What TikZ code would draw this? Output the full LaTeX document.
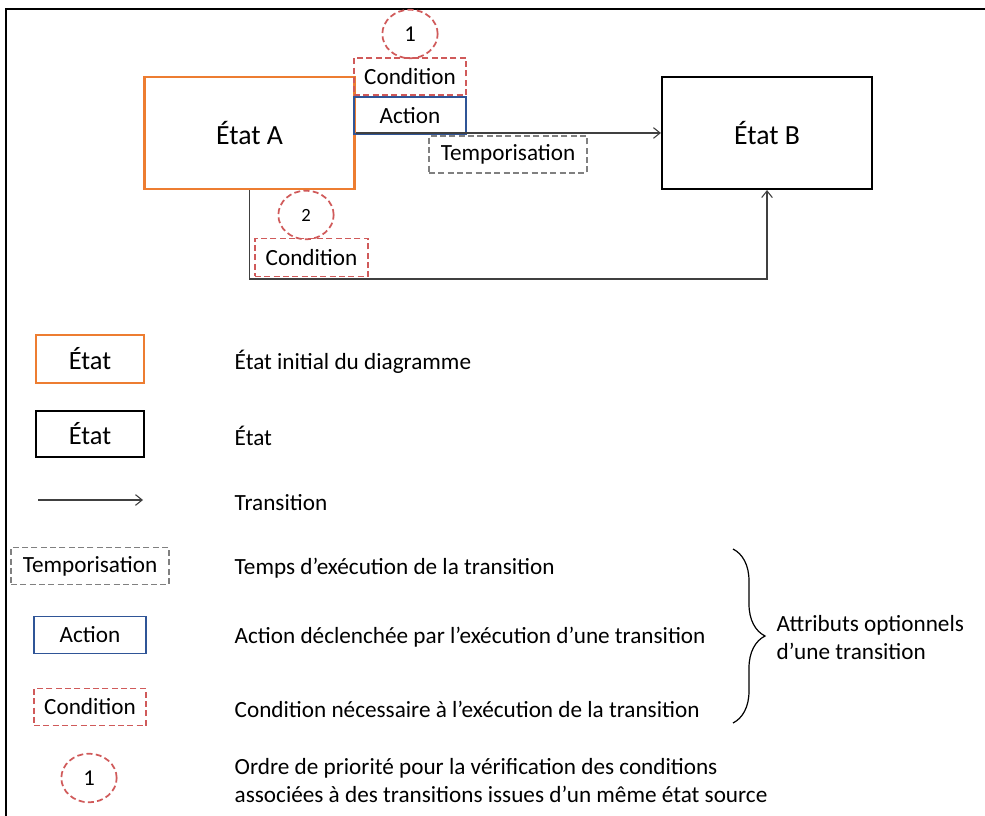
\documentclass[tikz,border=0pt]{standalone}
\usepackage{fontspec}
\setmainfont{Carlito}
\usetikzlibrary{arrows.meta,shapes.geometric,decorations.pathreplacing}
\definecolor{orA}{HTML}{ED7D31}
\definecolor{blA}{HTML}{2F5597}
\definecolor{rdA}{HTML}{D05A5A}
\definecolor{gyA}{HTML}{808080}
\definecolor{lnA}{HTML}{404040}
\begin{document}
\begin{tikzpicture}[x=0.75pt,y=-0.75pt,
  txt/.style={font=\fontsize{17.4pt}{21pt}\selectfont},
  big/.style={font=\fontsize{20.8pt}{24pt}\selectfont},
  mid/.style={font=\fontsize{19.8pt}{23pt}\selectfont},
  dsh/.style={dash pattern=on 4.5pt off 2.5pt},
  stinit/.style={draw=orA,line width=1.6pt,inner sep=0pt},
  stnorm/.style={draw=black,line width=1.6pt,inner sep=0pt},
  condbox/.style={draw=rdA,dsh,line width=1.3pt,inner sep=0pt,minimum width=84pt,minimum height=27.75pt,txt},
  actbox/.style={draw=blA,line width=1.2pt,inner sep=0pt,minimum width=84pt,minimum height=27.75pt,txt},
  tempbox/.style={draw=gyA,dsh,line width=1.3pt,inner sep=0pt,minimum width=118.5pt,minimum height=27.75pt,txt},
  prio/.style={ellipse,draw=rdA,dsh,line width=1.3pt,inner sep=0pt,minimum width=41.5pt,minimum height=36.5pt,font=\fontsize{17pt}{20pt}\selectfont},
  trans/.style={draw=lnA,line width=0.8pt,-{Straight Barb[length=5pt,width=8pt]}},
  legtxt/.style={anchor=west,txt,align=left}
]
\useasboundingbox (0,0) rectangle (985,816);
\fill[white] (0,0) rectangle (985,816);
% frame
\draw[line width=2pt] (6,816) -- (6,9) -- (985,9);

% main diagram
\node[stinit,minimum width=157.5pt,minimum height=84pt,big] (A) at (249.5,133) {État A};
\node[stnorm,minimum width=157.5pt,minimum height=84pt,big] (B) at (767,133) {État B};
\node[prio] (p1) at (410,34) {1};
\node[condbox] (c1) at (410,76.5) {Condition};
\node[actbox] (a1) at (410,115.5) {Action};
\node[tempbox] (t1) at (508,154.5) {Temporisation};
\node[prio,font=\fontsize{14pt}{17pt}\selectfont] (p2) at (306,215) {2};
\node[condbox,minimum width=84.75pt,minimum height=28.5pt] (c2) at (311.5,257.5) {Condition};
\coordinate (low) at (500,279);
\draw[trans] (A.east) -- (B.west);
\draw[trans] (A.south) |- (low) -| (B.south);

% legend
\node[stinit,minimum width=81pt,minimum height=36pt,mid] (l1) at (90,359) {État};
\node[stnorm,minimum width=81pt,minimum height=34.5pt,mid] (l2) at (90,434) {État};
\coordinate (la1) at (38,500);
\coordinate (la2) at (143,500);
\draw[trans] (la1) -- (la2);
\node[tempbox] (l4) at (90,566) {Temporisation};
\node[actbox] (l5) at (90,635) {Action};
\node[condbox] (l6) at (90,707) {Condition};
\node[prio] (l7) at (89,778) {1};

\node[legtxt] (d1) at (230,362) {État initial du diagramme};
\node[legtxt] (d2) at (230,436) {État};
\node[legtxt] (d3) at (230,503) {Transition};
\node[legtxt] (d4) at (230,568) {Temps d’exécution de la transition};
\node[legtxt] (d5) at (230,637) {Action déclenchée par l’exécution d’une transition};
\node[legtxt] (d6) at (230,709) {Condition nécessaire à l’exécution de la transition};
\node[legtxt] (d7) at (230,781) {Ordre de priorité pour la vérification des conditions\\associées à des transitions issues d’un même état source};

\coordinate (br1) at (733,549);
\coordinate (br2) at (733,723);
\draw[line width=0.9pt,decorate,decoration={brace,amplitude=24pt,aspect=0.5}] (br1) -- (br2);
\node[legtxt] (d8) at (772,638) {Attributs optionnels\\d’une transition};
\end{tikzpicture}
\end{document}
